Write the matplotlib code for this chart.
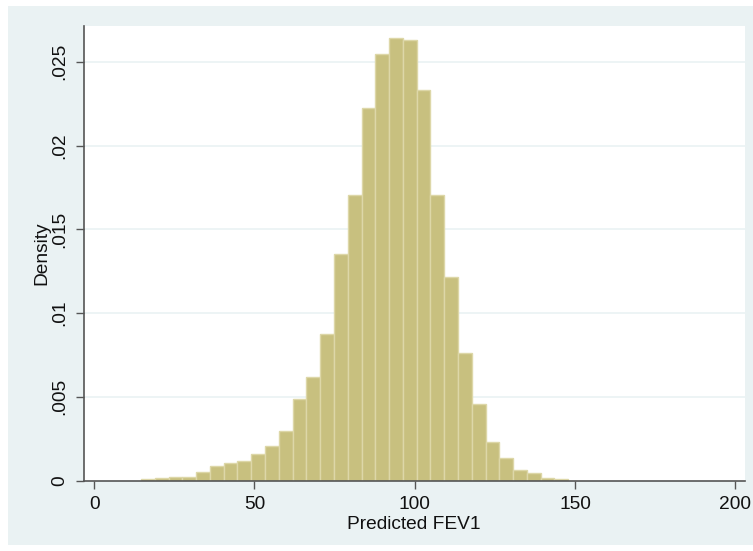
import numpy as np
import matplotlib
matplotlib.use("Agg")
import matplotlib.pyplot as plt
from matplotlib.patches import Rectangle

# Histogram data (density per bin)
bin_start = 14.6
bin_width = 4.30
densities = [0.00008, 0.00014, 0.00020, 0.00022, 0.00054, 0.00086, 0.00107, 0.00118,
             0.00161, 0.00205, 0.00297, 0.00487, 0.00619, 0.00875, 0.01351, 0.01705,
             0.02222, 0.02546, 0.02643, 0.02628, 0.02331, 0.01705, 0.01213, 0.00760,
             0.00456, 0.00231, 0.00134, 0.00064, 0.00044, 0.00018, 0.00008]
x_ticks = [0, 50, 100, 150, 200]
x_tick_labels = ["0", "50", "100", "150", "200"]
y_ticks = [0, 0.005, 0.01, 0.015, 0.02, 0.025]
y_tick_labels = ["0", ".005", ".01", ".015", ".02", ".025"]
x_label = "Predicted FEV1"
y_label = "Density"

plt.rcParams['font.family'] = ['Liberation Sans', 'DejaVu Sans']

W, H = 753, 551
fig = plt.figure(figsize=(W / 100, H / 100), dpi=100)
fig.patch.set_facecolor('white')

# outer light graph region (Stata s2color)
bg = Rectangle((8 / W, 6 / H), (W - 8) / W, (H - 12) / H, transform=fig.transFigure,
               facecolor='#EAF2F3', edgecolor='none', zorder=-10)
fig.patches.append(bg)

left, right, top, bottom = 83.7, 744.7, 25.7, 480.7
ax = fig.add_axes([left / W, (H - bottom) / H, (right - left) / W, (bottom - top) / H])
ax.set_zorder(5)
ax.set_facecolor('white')

edges = bin_start + bin_width * np.arange(len(densities))
ax.bar(edges, densities, width=bin_width, align='edge', color='#C8C07F',
       edgecolor='#DDD7A8', linewidth=1.0, zorder=3)

ax.set_xlim(-3.28, 202.96)
ax.set_ylim(0, 0.02715)

ax.set_xticks(x_ticks)
ax.set_xticklabels(x_tick_labels)
ax.set_yticks(y_ticks)
ax.set_yticklabels(y_tick_labels, rotation=90, va='center')

for y in y_ticks[1:]:
    ax.axhline(y, color='#EAF2F3', linewidth=1.2, zorder=1)

for s in ['top', 'right']:
    ax.spines[s].set_visible(False)
for s in ['left', 'bottom']:
    ax.spines[s].set_color('#555555')
    ax.spines[s].set_linewidth(1.2)
ax.spines['bottom'].set_zorder(4)

ax.tick_params(axis='both', direction='out', length=6, width=1, color='#555555',
               labelsize=13.8, labelcolor='#111111')
ax.tick_params(axis='x', pad=5)
ax.tick_params(axis='y', pad=5)

ax.set_xlabel(x_label, fontsize=13.8, color='#111111', labelpad=2)
ax.set_ylabel(y_label, fontsize=13.8, color='#111111', labelpad=1)

fig.savefig('out.png', dpi=100, facecolor=fig.get_facecolor())
